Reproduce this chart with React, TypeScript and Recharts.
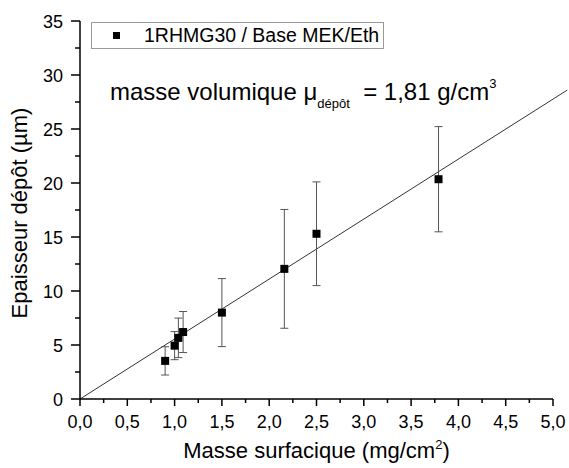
import React from 'react';
import {
  ScatterChart,
  Scatter,
  XAxis,
  YAxis,
  ErrorBar,
  ReferenceLine,
  Label,
} from 'recharts';

// mass per area (mg/cm2), deposit thickness (um), +/- error
const massX = [0.9, 1.0, 1.04, 1.09, 1.5, 2.16, 2.5, 3.79];
const thickY = [3.53, 4.94, 5.66, 6.2, 8.0, 12.05, 15.3, 20.35];
const thickErr = [1.31, 1.3, 1.83, 1.9, 3.15, 5.5, 4.8, 4.87];

// fitted line through the origin (density 1,81 g/cm3)
const fitX = [0, 5.15];
const fitY = [0, 28.6];

const xTicks = [0, 0.25, 0.5, 0.75, 1, 1.25, 1.5, 1.75, 2, 2.25, 2.5, 2.75, 3, 3.25, 3.5, 3.75, 4, 4.25, 4.5, 4.75, 5];
const yTicks = [0, 2.5, 5, 7.5, 10, 12.5, 15, 17.5, 20, 22.5, 25, 27.5, 30, 32.5, 35];

const points = massX.map((x, i) => ({ x, y: thickY[i], err: thickErr[i] }));

const FONT = '"Liberation Sans", Arial, sans-serif';

const isMajor = (v: number, step: number) => Math.abs(v / step - Math.round(v / step)) < 1e-6;

const XTick = ({ x, y, payload }: any) => {
  const major = isMajor(payload.value, 0.5);
  return (
    <g>
      <line x1={x} x2={x} y1={y} y2={y + (major ? 7 : 4)} stroke="#000" strokeWidth={1.5} />
      {major && (
        <text x={x} y={y + 29} textAnchor="middle" fontSize={18} fontFamily={FONT} fill="#000">
          {payload.value.toFixed(1).replace('.', ',')}
        </text>
      )}
    </g>
  );
};

const YTick = ({ x, y, payload }: any) => {
  const major = isMajor(payload.value, 5);
  return (
    <g>
      <line x1={x - (major ? 9 : 5)} x2={x} y1={y} y2={y} stroke="#000" strokeWidth={1.5} />
      {major && (
        <text x={x - 17} y={y + 6.5} textAnchor="end" fontSize={18} fontFamily={FONT} fill="#000">
          {payload.value}
        </text>
      )}
    </g>
  );
};

const Square = ({ cx, cy }: any) => (
  <rect x={cx - 4} y={cy - 4} width={8} height={8} fill="#000" />
);

export default function App() {
  return (
    <div style={{ position: 'absolute', left: 0, top: 0, width: 569, height: 468, background: '#fff', fontFamily: FONT }}>
      <ScatterChart width={569} height={468} margin={{ top: 21, right: 16, bottom: 0, left: 0 }}>
        <XAxis
          type="number"
          dataKey="x"
          domain={[0, 5]}
          ticks={xTicks}
          interval={0}
          tickLine={false}
          tickSize={0}
          tickMargin={0}
          height={69}
          axisLine={{ stroke: '#000', strokeWidth: 1.5 }}
          tick={<XTick />}
        >
          <Label
            content={({ viewBox }: any) => (
              <text
                x={viewBox.x + viewBox.width / 2}
                y={viewBox.y + 59}
                textAnchor="middle"
                fontSize={22}
                fontFamily={FONT}
                fill="#000"
              >
                Masse surfacique (mg/cm
                <tspan fontSize={13} dy={-9}>2</tspan>
                <tspan dy={9}>)</tspan>
              </text>
            )}
          />
        </XAxis>
        <YAxis
          type="number"
          dataKey="y"
          domain={[0, 35]}
          ticks={yTicks}
          interval={0}
          tickLine={false}
          tickSize={0}
          tickMargin={0}
          width={80}
          axisLine={{ stroke: '#000', strokeWidth: 1.5 }}
          tick={<YTick />}
        >
          <Label
            content={({ viewBox }: any) => (
              <text
                transform={`translate(27, ${viewBox.y + viewBox.height / 2 + 3}) rotate(-90)`}
                textAnchor="middle"
                fontSize={22}
                fontFamily={FONT}
                fill="#000"
              >
                Epaisseur dépôt (µm)
              </text>
            )}
          />
        </YAxis>
        <ReferenceLine
          segment={[
            { x: fitX[0], y: fitY[0] },
            { x: fitX[1], y: fitY[1] },
          ]}
          stroke="#333"
          strokeWidth={1}
          ifOverflow="visible"
        />
        <Scatter data={points} dataKey="y" shape={<Square />} isAnimationActive={false}>
          <ErrorBar dataKey="err" direction="y" width={4} stroke="#555" strokeWidth={1} />
        </Scatter>
      </ScatterChart>

      {/* legend */}
      <div
        style={{
          position: 'absolute',
          left: 91,
          top: 22,
          width: 293,
          height: 27,
          boxSizing: 'border-box',
          border: '1px solid #999',
          background: '#fff',
        }}
      >
        <div style={{ position: 'absolute', left: 21, top: 9, width: 7, height: 7, background: '#000' }} />
        <div style={{ position: 'absolute', left: 52, top: 2, fontSize: 19.5, lineHeight: '21px', whiteSpace: 'nowrap' }}>
          1RHMG30 / Base MEK/Eth
        </div>
      </div>

      {/* annotation */}
      <div
        style={{
          position: 'absolute',
          left: 110,
          top: 80,
          fontSize: 24,
          lineHeight: '24px',
          whiteSpace: 'nowrap',
        }}
      >
        masse volumique μ
        <span style={{ position: 'relative', top: 8, fontSize: 13 }}>dépôt</span>
        {'\u00a0 = 1,81 g/cm'}
        <span style={{ position: 'relative', top: -12, fontSize: 13 }}>3</span>
      </div>
    </div>
  );
}
